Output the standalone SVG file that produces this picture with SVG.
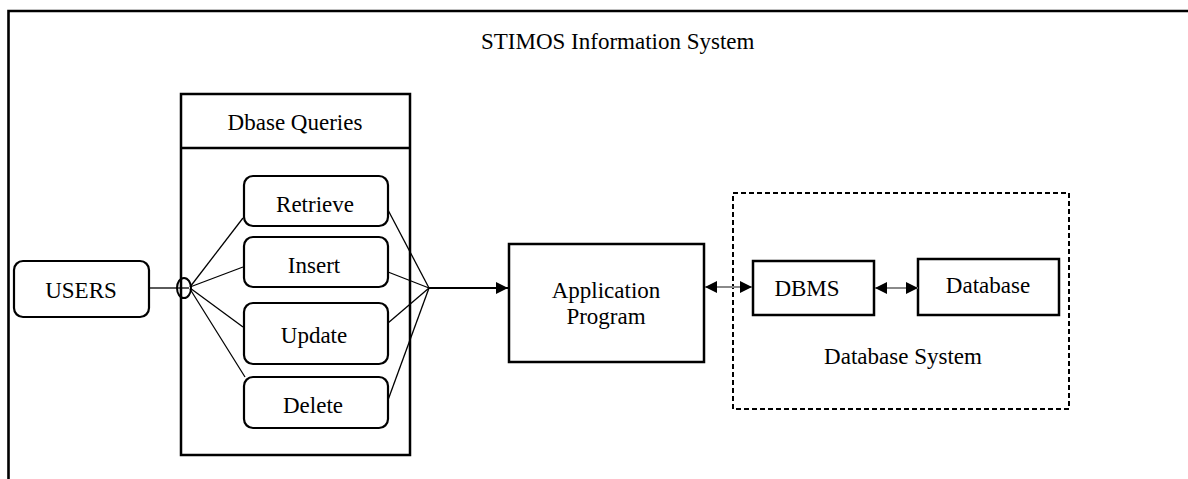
<svg xmlns="http://www.w3.org/2000/svg" width="1188" height="479" viewBox="0 0 1188 479">
<style>
text{font-family:'Liberation Serif','Times New Roman','DejaVu Serif',serif;font-size:23px;fill:#000}
.m{text-anchor:middle}
.box{fill:#fff;stroke:#000;stroke-width:2.5}
.rbox{fill:#fff;stroke:#000;stroke-width:2.2}
.thin{stroke:#000;stroke-width:1.3;fill:none}
.grey{stroke:#8a8a8a;stroke-width:1.8;fill:none}
</style>
<defs>
<marker id="ah" viewBox="0 0 12 12" refX="12" refY="6" markerWidth="12" markerHeight="12" markerUnits="userSpaceOnUse" orient="auto-start-reverse">
<path d="M0,0 L12,6 L0,12 Z" fill="#000"/>
</marker>
</defs>
<rect width="1188" height="479" fill="#fff"/>
<g id="frame">
<path d="M8.5,480 V11 H1190" fill="none" stroke="#000" stroke-width="2.6"/>
<text x="481" y="49" font-family="Liberation Serif, serif">STIMOS Information System</text>
</g>
<g id="dbase-queries">
<rect class="box" x="181" y="94" width="229" height="361"/>
<line x1="181" y1="148" x2="410" y2="148" stroke="#000" stroke-width="2.5"/>
<text class="m" x="295" y="130" font-family="Liberation Serif, serif">Dbase Queries</text>
</g>
<g id="users">
<rect class="rbox" x="14" y="261" width="135" height="56" rx="9"/>
<text class="m" x="81" y="298" font-family="Liberation Serif, serif">USERS</text>
</g>
<g id="retrieve">
<rect class="rbox" x="244" y="176" width="144" height="50" rx="9"/>
<text class="m" x="315" y="212" font-family="Liberation Serif, serif">Retrieve</text>
</g>
<g id="insert">
<rect class="rbox" x="244" y="237" width="144" height="50" rx="9"/>
<text class="m" x="314" y="273" font-family="Liberation Serif, serif">Insert</text>
</g>
<g id="update">
<rect class="rbox" x="244" y="303" width="144" height="61" rx="9"/>
<text class="m" x="314" y="343" font-family="Liberation Serif, serif">Update</text>
</g>
<g id="delete">
<rect class="rbox" x="244" y="377" width="144" height="51" rx="9"/>
<text class="m" x="313" y="413" font-family="Liberation Serif, serif">Delete</text>
</g>
<g id="application-program">
<rect class="box" x="509" y="244" width="195" height="118"/>
<text class="m" x="606" y="298" font-family="Liberation Serif, serif">Application</text>
<text class="m" x="606" y="324" font-family="Liberation Serif, serif">Program</text>
</g>
<g id="database-system">
<rect x="733" y="193" width="336" height="216" fill="none" stroke="#000" stroke-width="2" stroke-dasharray="5,3"/>
<text class="m" x="903" y="364" font-family="Liberation Serif, serif">Database System</text>
</g>
<g id="dbms">
<rect class="box" x="753" y="261" width="121" height="54"/>
<text class="m" x="807" y="296" font-family="Liberation Serif, serif">DBMS</text>
</g>
<g id="database">
<rect class="box" x="918" y="259" width="141" height="56"/>
<text class="m" x="988" y="293" font-family="Liberation Serif, serif">Database</text>
</g>
<g id="connectors">
<line class="thin" x1="149" y1="288" x2="177" y2="288"/>
<ellipse cx="184" cy="288" rx="7" ry="10" fill="none" stroke="#000" stroke-width="2"/>
<line class="thin" x1="177" y1="288" x2="189" y2="288"/>
<line class="thin" x1="190" y1="287" x2="243" y2="218"/>
<line class="thin" x1="190" y1="287" x2="243" y2="267"/>
<line class="thin" x1="190" y1="288" x2="243" y2="327"/>
<line class="thin" x1="190" y1="289" x2="245" y2="377"/>
<line class="thin" x1="388" y1="210" x2="429" y2="288"/>
<line class="thin" x1="388" y1="272" x2="429" y2="288"/>
<line class="thin" x1="388" y1="323" x2="429" y2="288"/>
<line class="thin" x1="388" y1="400" x2="429" y2="288"/>
<line x1="429" y1="288" x2="508" y2="288" stroke="#000" stroke-width="1.8" marker-end="url(#ah)"/>
<line class="grey" x1="705" y1="287" x2="752" y2="287" marker-start="url(#ah)" marker-end="url(#ah)"/>
<line class="grey" x1="875" y1="288" x2="918" y2="288" marker-start="url(#ah)" marker-end="url(#ah)"/>
</g>
</svg>
